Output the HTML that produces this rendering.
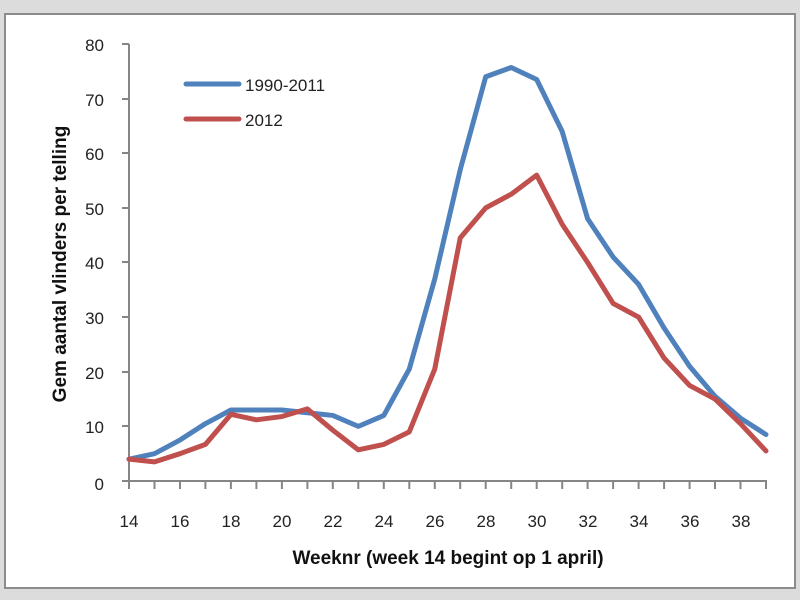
<!DOCTYPE html>
<html><head><meta charset="utf-8"><style>
html,body{margin:0;padding:0;background:#dcdcdc;}
svg{display:block;font-family:"Liberation Sans",sans-serif;}
</style></head><body>
<svg width="800" height="600" xmlns="http://www.w3.org/2000/svg">
<rect x="0" y="0" width="800" height="600" fill="#dcdcdc"/>
<rect x="5" y="14" width="790" height="574" fill="#fff" stroke="#8c8c8c" stroke-width="2"/>
<g stroke="#868686" stroke-width="2" fill="none">
<line x1="129" y1="44" x2="129" y2="482"/>
<line x1="128" y1="481" x2="767" y2="481"/>
<line x1="122" y1="44" x2="129" y2="44"/>
<line x1="122" y1="99" x2="129" y2="99"/>
<line x1="122" y1="153" x2="129" y2="153"/>
<line x1="122" y1="208" x2="129" y2="208"/>
<line x1="122" y1="262" x2="129" y2="262"/>
<line x1="122" y1="317" x2="129" y2="317"/>
<line x1="122" y1="372" x2="129" y2="372"/>
<line x1="122" y1="426" x2="129" y2="426"/>
<line x1="122" y1="481" x2="129" y2="481"/>
</g>
<g stroke="#868686" stroke-width="2" id="xt">
<line x1="129" y1="481" x2="129" y2="489"/><line x1="154.5" y1="481" x2="154.5" y2="489"/><line x1="180" y1="481" x2="180" y2="489"/><line x1="205.4" y1="481" x2="205.4" y2="489"/><line x1="230.9" y1="481" x2="230.9" y2="489"/><line x1="256.4" y1="481" x2="256.4" y2="489"/><line x1="281.9" y1="481" x2="281.9" y2="489"/><line x1="307.4" y1="481" x2="307.4" y2="489"/><line x1="332.8" y1="481" x2="332.8" y2="489"/><line x1="358.3" y1="481" x2="358.3" y2="489"/><line x1="383.8" y1="481" x2="383.8" y2="489"/><line x1="409.3" y1="481" x2="409.3" y2="489"/><line x1="434.8" y1="481" x2="434.8" y2="489"/><line x1="460.2" y1="481" x2="460.2" y2="489"/><line x1="485.7" y1="481" x2="485.7" y2="489"/><line x1="511.2" y1="481" x2="511.2" y2="489"/><line x1="536.7" y1="481" x2="536.7" y2="489"/><line x1="562.2" y1="481" x2="562.2" y2="489"/><line x1="587.6" y1="481" x2="587.6" y2="489"/><line x1="613.1" y1="481" x2="613.1" y2="489"/><line x1="638.6" y1="481" x2="638.6" y2="489"/><line x1="664.1" y1="481" x2="664.1" y2="489"/><line x1="689.6" y1="481" x2="689.6" y2="489"/><line x1="715" y1="481" x2="715" y2="489"/><line x1="740.5" y1="481" x2="740.5" y2="489"/><line x1="766" y1="481" x2="766" y2="489"/>
</g>
<g font-size="17" fill="#222" text-anchor="end">
<text x="104" y="51">80</text><text x="104" y="106">70</text><text x="104" y="160">60</text><text x="104" y="215">50</text><text x="104" y="269">40</text><text x="104" y="324">30</text><text x="104" y="379">20</text><text x="104" y="433">10</text><text x="104" y="490">0</text>
</g>
<g font-size="17" fill="#222" text-anchor="middle">
<text x="129" y="527">14</text><text x="180" y="527">16</text><text x="231" y="527">18</text><text x="282" y="527">20</text><text x="333" y="527">22</text><text x="384" y="527">24</text><text x="435" y="527">26</text><text x="486" y="527">28</text><text x="537" y="527">30</text><text x="588" y="527">32</text><text x="639" y="527">34</text><text x="690" y="527">36</text><text x="741" y="527">38</text>
</g>
<text x="448" y="564" font-size="19" font-weight="bold" text-anchor="middle" fill="#111">Weeknr (week 14 begint op 1 april)</text>
<text transform="translate(66,264) rotate(-90)" font-size="19" font-weight="bold" text-anchor="middle" fill="#111">Gem aantal vlinders per telling</text>
<g transform="translate(129,481) scale(25.48,-5.4625)" fill="none" stroke-width="5" stroke-linejoin="round" stroke-linecap="round">
<polyline vector-effect="non-scaling-stroke" stroke="#4f81bd" points="0,4 1,5 2,7.5 3,10.5 4,13 5,13 6,13 7,12.5 8,12 9,10 10,12 11,20.5 12,37 13,57 14,74 15,75.7 16,73.5 17,64 18,48 19,41 20,36 21,28 22,21 23,15.5 24,11.5 25,8.5"/>
<polyline vector-effect="non-scaling-stroke" stroke="#c0504d" points="0,4 1,3.5 2,5 3,6.7 4,12.2 5,11.2 6,11.8 7,13.2 8,9.3 9,5.7 10,6.7 11,9 12,20.5 13,44.5 14,50 15,52.5 16,56 17,47 18,40 19,32.5 20,30 21,22.5 22,17.5 23,15 24,10.5 25,5.5"/>
</g>
<line x1="186" y1="84" x2="239" y2="84" stroke="#4f81bd" stroke-width="5" stroke-linecap="round"/>
<line x1="186" y1="119" x2="239" y2="119" stroke="#c0504d" stroke-width="5" stroke-linecap="round"/>
<text x="245" y="91" font-size="17" fill="#222">1990-2011</text>
<text x="245" y="126" font-size="17" fill="#222">2012</text>
</svg>
</body></html>
